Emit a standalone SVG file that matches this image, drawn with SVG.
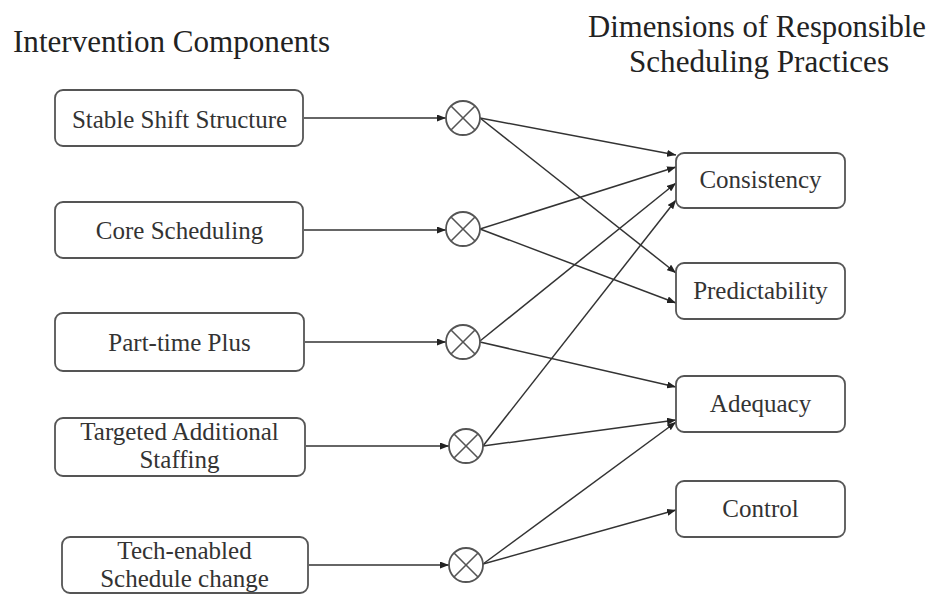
<svg xmlns="http://www.w3.org/2000/svg" width="935" height="594" viewBox="0 0 935 594">
<style>
  .title { font-family: "Liberation Serif", "Times New Roman", serif; font-size: 31px; fill: #222; }
  .mid { text-anchor: middle; }
  .lbl { font-family: "Liberation Serif", "Times New Roman", serif; font-size: 25px; fill: #333; text-anchor: middle; }
  .box { fill: #fff; stroke: #555; stroke-width: 1.8; }
  .mult circle { fill: #fff; stroke: #555; stroke-width: 1.8; }
  .mult line { stroke: #555; stroke-width: 1.6; }
  .conn { stroke: #333; stroke-width: 1.5; fill: none; marker-end: url(#ah); }
</style>
<defs>
  <marker id="ah" markerUnits="userSpaceOnUse" markerWidth="9" markerHeight="7" refX="9" refY="3.5" orient="auto">
    <path d="M0,0 L9,3.5 L0,7 z" fill="#222"/>
  </marker>
</defs>
<rect width="935" height="594" fill="#fff"/>

<g id="titles">
  <text class="title" x="13" y="52" textLength="317" lengthAdjust="spacingAndGlyphs">Intervention Components</text>
  <text class="title mid" x="757" y="37" textLength="338" lengthAdjust="spacingAndGlyphs">Dimensions of Responsible</text>
  <text class="title mid" x="759" y="72" textLength="260" lengthAdjust="spacingAndGlyphs">Scheduling Practices</text>
</g>

<g id="connectors">
  <line class="conn" x1="304" y1="118" x2="446" y2="118"/>
  <line class="conn" x1="304" y1="230" x2="446" y2="230"/>
  <line class="conn" x1="305" y1="342" x2="446" y2="342"/>
  <line class="conn" x1="306" y1="446" x2="449" y2="446"/>
  <line class="conn" x1="309" y1="565" x2="449" y2="565"/>

  <line class="conn" x1="480" y1="118" x2="676" y2="155"/>
  <line class="conn" x1="480" y1="118" x2="676" y2="273"/>
  <line class="conn" x1="480" y1="229" x2="676" y2="167"/>
  <line class="conn" x1="480" y1="229" x2="676" y2="303"/>
  <line class="conn" x1="480" y1="341" x2="676" y2="183"/>
  <line class="conn" x1="480" y1="342" x2="676" y2="387"/>
  <line class="conn" x1="483" y1="446" x2="676" y2="200"/>
  <line class="conn" x1="483" y1="446" x2="676" y2="420"/>
  <line class="conn" x1="483" y1="564" x2="676" y2="422"/>
  <line class="conn" x1="483" y1="564" x2="676" y2="510"/>
</g>

<g id="n-stable">
  <rect class="box" x="55" y="90" width="248" height="56" rx="8"/>
  <text class="lbl" x="179.5" y="128">Stable Shift Structure</text>
</g>
<g id="n-core">
  <rect class="box" x="55" y="202" width="248" height="56" rx="8"/>
  <text class="lbl" x="179.5" y="239">Core Scheduling</text>
</g>
<g id="n-parttime">
  <rect class="box" x="55" y="313" width="249" height="58" rx="8"/>
  <text class="lbl" x="179.5" y="351">Part-time Plus</text>
</g>
<g id="n-targeted">
  <rect class="box" x="55" y="418" width="250" height="58" rx="8"/>
  <text class="lbl" x="179.5" y="440">Targeted Additional</text>
  <text class="lbl" x="179.5" y="468">Staffing</text>
</g>
<g id="n-tech">
  <rect class="box" x="62" y="537" width="246" height="56" rx="8"/>
  <text class="lbl" x="184.5" y="559">Tech-enabled</text>
  <text class="lbl" x="184.5" y="587">Schedule change</text>
</g>

<g id="m1" class="mult">
  <circle cx="463" cy="118" r="17"/>
  <line x1="451" y1="106" x2="475" y2="130"/><line x1="475" y1="106" x2="451" y2="130"/>
</g>
<g id="m2" class="mult">
  <circle cx="463" cy="229" r="17"/>
  <line x1="451" y1="217" x2="475" y2="241"/><line x1="475" y1="217" x2="451" y2="241"/>
</g>
<g id="m3" class="mult">
  <circle cx="463" cy="342" r="17"/>
  <line x1="451" y1="330" x2="475" y2="354"/><line x1="475" y1="330" x2="451" y2="354"/>
</g>
<g id="m4" class="mult">
  <circle cx="466" cy="446" r="17"/>
  <line x1="454" y1="434" x2="478" y2="458"/><line x1="478" y1="434" x2="454" y2="458"/>
</g>
<g id="m5" class="mult">
  <circle cx="466" cy="565" r="17"/>
  <line x1="454" y1="553" x2="478" y2="577"/><line x1="478" y1="553" x2="454" y2="577"/>
</g>

<g id="n-consistency">
  <rect class="box" x="676" y="153" width="169" height="55" rx="8"/>
  <text class="lbl" x="760.5" y="188">Consistency</text>
</g>
<g id="n-predictability">
  <rect class="box" x="676" y="263" width="169" height="56" rx="8"/>
  <text class="lbl" x="760.5" y="299">Predictability</text>
</g>
<g id="n-adequacy">
  <rect class="box" x="676" y="376" width="169" height="56" rx="8"/>
  <text class="lbl" x="760.5" y="412">Adequacy</text>
</g>
<g id="n-control">
  <rect class="box" x="676" y="481" width="169" height="56" rx="8"/>
  <text class="lbl" x="760.5" y="517">Control</text>
</g>
</svg>
